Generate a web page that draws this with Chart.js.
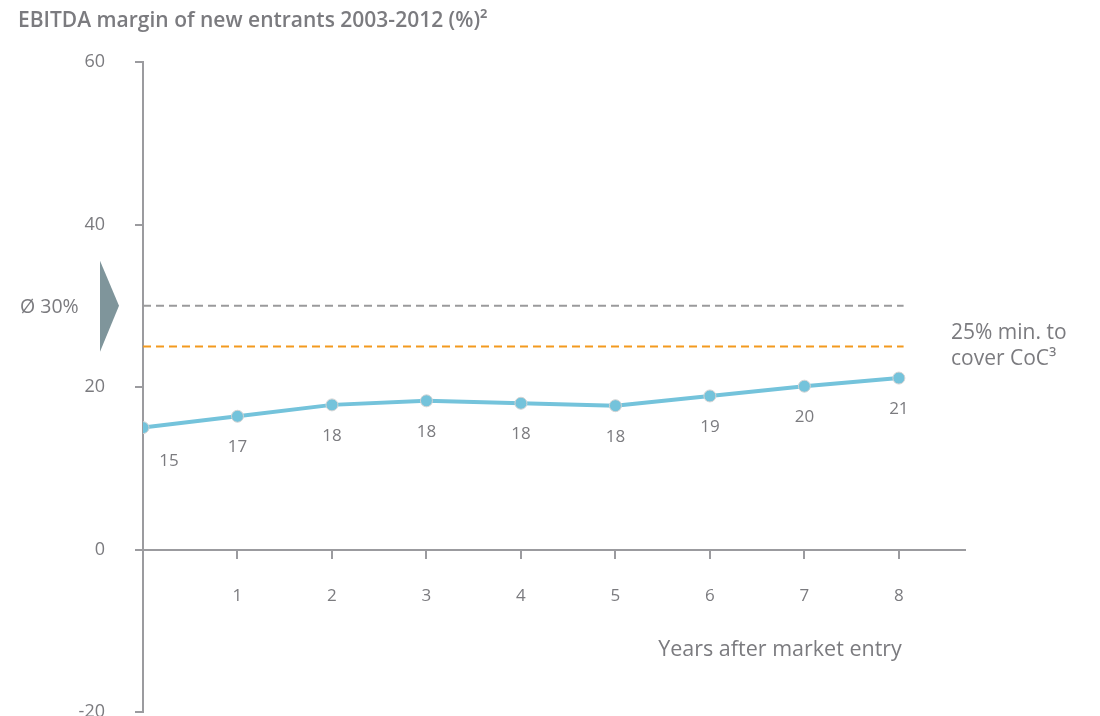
<!DOCTYPE html>
<html>
<head>
<meta charset="utf-8">
<script src="https://cdn.jsdelivr.net/npm/chart.js@4/dist/chart.umd.min.js"></script>
<style>
  html, body { margin: 0; padding: 0; background: #ffffff; }
  #wrap { position: relative; width: 1100px; height: 716px; }
</style>
</head>
<body>
<div id="wrap"><canvas id="c" width="1100" height="716"></canvas></div>
<script>
// ---- data ----
const years = [0, 1, 2, 3, 4, 5, 6, 7, 8];
const ebitdaMargin = [15.0, 16.4, 17.8, 18.3, 18.0, 17.7, 18.9, 20.1, 21.1];
const pointLabels = ['15', '17', '18', '18', '18', '18', '19', '20', '21'];
const avgMargin = 30;
const minMargin = 25;
const yTicks = [-20, 0, 20, 40, 60];
const xTicks = [1, 2, 3, 4, 5, 6, 7, 8];
const titleText = 'EBITDA margin of new entrants 2003-2012 (%)\u00B2';
const xAxisTitle = 'Years after market entry';
const avgLabel = '\u00D8 30%';
const minLabelLines = ['25% min. to', 'cover CoC\u00B3'];

const FONT = '"Open Sans", Lato, sans-serif';
const TEXT = '#7b7b7f';
const AXIS = '#9b9b9f';
const LINE = '#74c3db';

const lineData = years.map((x, i) => ({ x: x, y: ebitdaMargin[i] }));
const refEnd = 8.05;
const avgData = [{ x: 0, y: avgMargin }, { x: refEnd, y: avgMargin }];
const minData = [{ x: 0, y: minMargin }, { x: refEnd, y: minMargin }];

const annotations = {
  id: 'annotations',
  afterDatasetsDraw(chart) {
    const ctx = chart.ctx;
    const xs = chart.scales.x, ys = chart.scales.y;
    ctx.save();
    // title
    ctx.fillStyle = TEXT;
    ctx.font = '600 21px ' + FONT;
    ctx.textAlign = 'left';
    ctx.textBaseline = 'middle';
    ctx.fillText(titleText, 18, 21);

    // point labels
    ctx.font = '17px ' + FONT;
    ctx.textAlign = 'center';
    const meta = chart.getDatasetMeta(0);
    meta.data.forEach((pt, i) => {
      const dx = i === 0 ? 26 : 0;
      const dy = i === 0 ? 34 : 31;
      ctx.fillText(pointLabels[i], pt.x + dx, pt.y + dy);
    });

    // arrow marker at average
    const ya = ys.getPixelForValue(avgMargin);
    ctx.fillStyle = '#7f959b';
    ctx.beginPath();
    ctx.moveTo(100, ya - 45);
    ctx.lineTo(119, ya);
    ctx.lineTo(100, ya + 46);
    ctx.closePath();
    ctx.fill();

    ctx.fillStyle = TEXT;
    ctx.font = '19.5px ' + FONT;
    ctx.textAlign = 'left';
    ctx.fillText(avgLabel, 20, ya + 2);

    // min label
    const ym = ys.getPixelForValue(minMargin);
    ctx.font = '21px ' + FONT;
    ctx.fillText(minLabelLines[0], 951, ym - 13);
    ctx.fillText(minLabelLines[1], 951, ym + 13);

    // x axis title
    ctx.font = '21.5px ' + FONT;
    ctx.textAlign = 'right';
    ctx.fillText(xAxisTitle, xs.getPixelForValue(8) + 3, 650);
    ctx.restore();
  }
};

new Chart(document.getElementById('c'), {
  type: 'line',
  data: {
    datasets: [
      {
        data: lineData,
        borderColor: LINE,
        borderWidth: 4,
        pointRadius: 6,
        pointBackgroundColor: LINE,
        pointBorderColor: '#d3d3d3',
        pointBorderWidth: 1,
        tension: 0,
        order: 0
      },
      {
        data: avgData,
        borderColor: '#9a9a9c',
        borderWidth: 2,
        borderDash: [8, 5],
        pointRadius: 0,
        order: 1
      },
      {
        data: minData,
        borderColor: '#f39a1e',
        borderWidth: 2,
        borderDash: [8, 5],
        pointRadius: 0,
        order: 1
      }
    ]
  },
  options: {
    responsive: false,
    animation: false,
    devicePixelRatio: 1,
    layout: { autoPadding: false, padding: { top: 62, right: 135, bottom: 4, left: 0 } },
    plugins: { legend: { display: false }, tooltip: { enabled: false } },
    scales: {
      x: {
        type: 'linear',
        position: { y: 0 },
        min: 0,
        max: 8.7,
        afterBuildTicks(scale) { scale.ticks = [0].concat(xTicks).map(v => ({ value: v })); },
        afterFit(scale) { scale.height = 0; },
        ticks: {
          padding: 28,
          color: TEXT,
          font: { family: FONT, size: 17 },
          callback: (v) => (v === 0 ? '' : String(v))
        },
        grid: { drawOnChartArea: false, drawTicks: true, tickLength: 8, color: AXIS, lineWidth: 2 },
        border: { display: true, color: AXIS, width: 2 }
      },
      y: {
        type: 'linear',
        min: -20,
        max: 60,
        afterBuildTicks(scale) { scale.ticks = yTicks.map(v => ({ value: v })); },
        afterFit(scale) { scale.width = 143; scale.paddingTop = 0; scale.paddingBottom = 0; },
        ticks: {
          padding: 30,
          color: TEXT,
          font: { family: FONT, size: 18 }
        },
        grid: { drawOnChartArea: false, drawTicks: true, tickLength: 8, color: AXIS, lineWidth: 2 },
        border: { display: true, color: AXIS, width: 2 }
      }
    }
  },
  plugins: [annotations]
});
</script>
</body>
</html>
